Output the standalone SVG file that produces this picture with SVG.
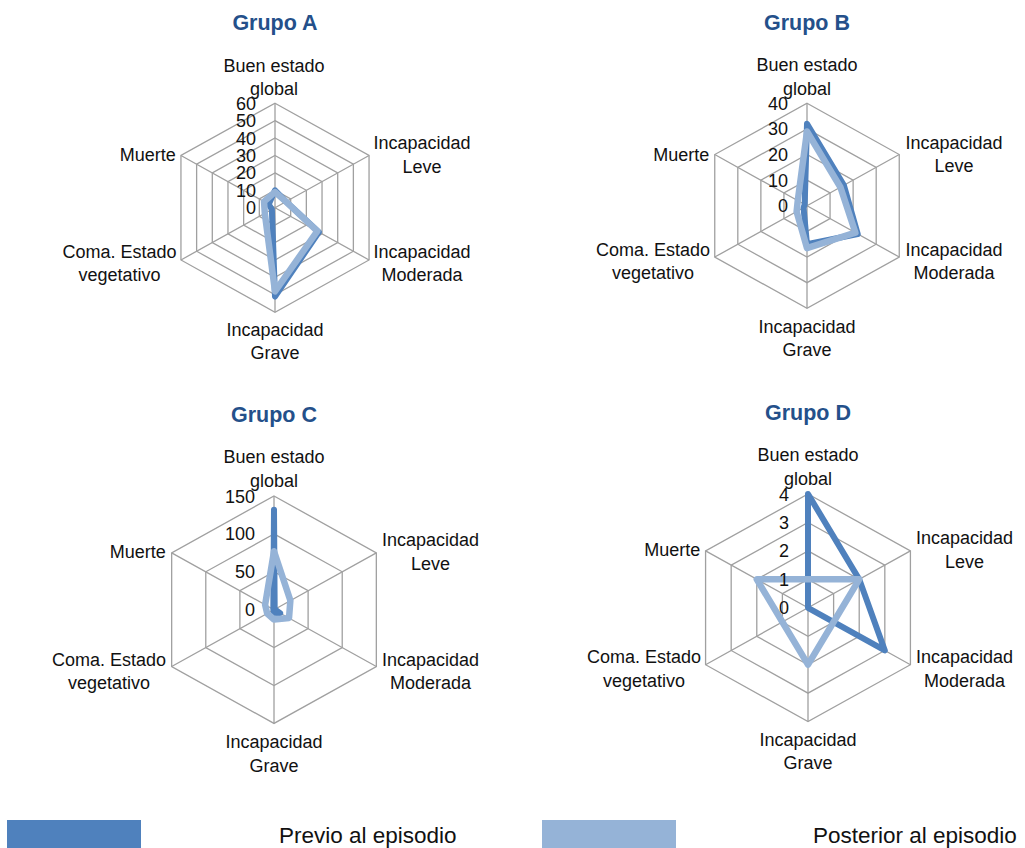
<svg xmlns="http://www.w3.org/2000/svg" width="1025" height="848" viewBox="0 0 1025 848">
<style>
.t{font-family:"Liberation Sans",Arial,sans-serif;font-weight:bold;font-size:21.5px;fill:#24508A;text-anchor:middle}
.l{font-family:"Liberation Sans",Arial,sans-serif;font-size:18px;fill:#111}
.m{text-anchor:middle}
.e{text-anchor:end}
.g{fill:none;stroke:#A0A0A0;stroke-width:1.3}
.s1{fill:none;stroke:#4F81BD;stroke-width:6;stroke-linejoin:round}
.s2{fill:none;stroke:#95B3D7;stroke-width:6.5;stroke-linejoin:round}
.lg{font-family:"Liberation Sans",Arial,sans-serif;font-size:22.5px;fill:#111}
</style>
<rect width="1025" height="848" fill="#fff"/>

<g id="grupo-a">
<text class="t" x="275" y="30">Grupo A</text>
<g transform="translate(275,207.7)">
<polygon class="g" points="0,-17.42 15.68,-8.71 15.68,8.71 0,17.42 -15.68,8.71 -15.68,-8.71"/>
<polygon class="g" points="0,-34.83 31.35,-17.42 31.35,17.42 0,34.83 -31.35,17.42 -31.35,-17.42"/>
<polygon class="g" points="0,-52.25 47.03,-26.13 47.03,26.13 0,52.25 -47.03,26.13 -47.03,-26.13"/>
<polygon class="g" points="0,-69.67 62.7,-34.83 62.7,34.83 0,69.67 -62.7,34.83 -62.7,-34.83"/>
<polygon class="g" points="0,-87.08 78.37,-43.54 78.37,43.54 0,87.08 -78.37,43.54 -78.37,-43.54"/>
<polygon class="g" points="0,-104.5 94.05,-52.25 94.05,52.25 0,104.5 -94.05,52.25 -94.05,-52.25"/>
<path class="g" d="M0,0V-104.5M0,0L94.05,-52.25M0,0L94.05,52.25M0,0V104.5M0,0L-94.05,52.25M0,0L-94.05,-52.25"/>
<polygon class="s1" points="0,-17.42 10.97,-6.1 43.89,24.38 0,88.83 -3.13,1.74 -6.27,-3.48"/>
<polygon class="s2" points="0,-15.68 10.97,-6.1 42.33,23.51 0,83.6 -10.19,5.66 -10.97,-6.1"/>
<g class="l e">
<text x="-19" y="6.5">0</text><text x="-19" y="-10.92">10</text><text x="-19" y="-28.33">20</text><text x="-19" y="-45.75">30</text><text x="-19" y="-63.17">40</text><text x="-19" y="-80.58">50</text><text x="-19" y="-98">60</text>
</g>
</g>
<g class="l m">
<text x="274" y="71.5">Buen estado</text><text x="274" y="94.5">global</text>
<text x="422" y="149">Incapacidad</text><text x="422" y="172.5">Leve</text>
<text x="422" y="257.5">Incapacidad</text><text x="422" y="280.5">Moderada</text>
<text x="275" y="335.5">Incapacidad</text><text x="275" y="358.5">Grave</text>
<text x="119.5" y="257.5">Coma. Estado</text><text x="119.5" y="280.5">vegetativo</text>
</g>
<text class="l e" x="175.7" y="161">Muerte</text>
</g>

<g id="grupo-b">
<text class="t" x="807" y="30">Grupo B</text>
<g transform="translate(807,205.8)">
<polygon class="g" points="0,-25.63 23.06,-12.81 23.06,12.81 0,25.63 -23.06,12.81 -23.06,-12.81"/>
<polygon class="g" points="0,-51.25 46.13,-25.63 46.13,25.63 0,51.25 -46.13,25.63 -46.13,-25.63"/>
<polygon class="g" points="0,-76.88 69.19,-38.44 69.19,38.44 0,76.88 -69.19,38.44 -69.19,-38.44"/>
<polygon class="g" points="0,-102.5 92.25,-51.25 92.25,51.25 0,102.5 -92.25,51.25 -92.25,-51.25"/>
<path class="g" d="M0,0V-102.5M0,0L92.25,-51.25M0,0L92.25,51.25M0,0V102.5M0,0L-92.25,51.25M0,0L-92.25,-51.25"/>
<polygon class="s1" points="0,-82 36.9,-20.5 50.74,28.19 0,38.44 -3.46,1.92 -2.31,-1.28"/>
<polygon class="s2" points="0,-74.31 33.44,-18.58 48.43,26.91 0,42.28 -10.38,5.77 -9.23,-5.13"/>
<g class="l e">
<text x="-19" y="6.5">0</text><text x="-19" y="-19.13">10</text><text x="-19" y="-44.75">20</text><text x="-19" y="-70.38">30</text><text x="-19" y="-96">40</text>
</g>
</g>
<g class="l m">
<text x="807" y="71">Buen estado</text><text x="807" y="95">global</text>
<text x="954" y="149">Incapacidad</text><text x="954" y="171.7">Leve</text>
<text x="954" y="256">Incapacidad</text><text x="954" y="279.3">Moderada</text>
<text x="807" y="333.3">Incapacidad</text><text x="807" y="356">Grave</text>
<text x="653" y="256">Coma. Estado</text><text x="653" y="279.3">vegetativo</text>
</g>
<text class="l e" x="709.3" y="161">Muerte</text>
</g>

<g id="grupo-c">
<text class="t" x="274" y="422.3">Grupo C</text>
<g transform="translate(274,609.7)">
<polygon class="g" points="0,-37.9 34.11,-18.95 34.11,18.95 0,37.9 -34.11,18.95 -34.11,-18.95"/>
<polygon class="g" points="0,-75.8 68.22,-37.9 68.22,37.9 0,75.8 -68.22,37.9 -68.22,-37.9"/>
<polygon class="g" points="0,-113.7 102.33,-56.85 102.33,56.85 0,113.7 -102.33,56.85 -102.33,-56.85"/>
<path class="g" d="M0,0V-113.7M0,0L102.33,-56.85M0,0L102.33,56.85M0,0V113.7M0,0L-102.33,56.85M0,0L-102.33,-56.85"/>
<polygon class="s1" points="0,-100.06 0.68,-0.38 6.14,3.41 0,3.03 -0.68,0.38 -0.68,-0.38"/>
<polygon class="s2" points="0,-58.37 16.37,-9.1 15.01,8.34 0,9.85 -6.82,3.79 -8.87,-4.93"/>
<g class="l e">
<text x="-19" y="6.5">0</text><text x="-19" y="-31.4">50</text><text x="-19" y="-69.3">100</text><text x="-19" y="-107.2">150</text>
</g>
</g>
<g class="l m">
<text x="274" y="463.3">Buen estado</text><text x="274" y="486.7">global</text>
<text x="430.5" y="546">Incapacidad</text><text x="430.5" y="570">Leve</text>
<text x="430.5" y="665.7">Incapacidad</text><text x="430.5" y="689">Moderada</text>
<text x="274" y="747.7">Incapacidad</text><text x="274" y="771.7">Grave</text>
<text x="109" y="665.7">Coma. Estado</text><text x="109" y="689">vegetativo</text>
</g>
<text class="l e" x="165.7" y="558.3">Muerte</text>
</g>

<g id="grupo-d">
<text class="t" x="808" y="420">Grupo D</text>
<g transform="translate(808,607.8)">
<polygon class="g" points="0,-28.45 25.61,-14.23 25.61,14.23 0,28.45 -25.61,14.23 -25.61,-14.23"/>
<polygon class="g" points="0,-56.9 51.21,-28.45 51.21,28.45 0,56.9 -51.21,28.45 -51.21,-28.45"/>
<polygon class="g" points="0,-85.35 76.82,-42.68 76.82,42.68 0,85.35 -76.82,42.68 -76.82,-42.68"/>
<polygon class="g" points="0,-113.8 102.42,-56.9 102.42,56.9 0,113.8 -102.42,56.9 -102.42,-56.9"/>
<path class="g" d="M0,0V-113.8M0,0L102.42,-56.9M0,0L102.42,56.9M0,0V113.8M0,0L-102.42,56.9M0,0L-102.42,-56.9"/>
<polygon class="s1" points="0,-113.8 51.21,-28.45 76.82,42.68 0,0 0,0 0,0"/>
<polygon class="s2" points="0,-28.45 51.21,-28.45 25.61,14.23 0,56.9 -25.61,14.23 -51.21,-28.45"/>
<g class="l e">
<text x="-19" y="6.5">0</text><text x="-19" y="-21.95">1</text><text x="-19" y="-50.4">2</text><text x="-19" y="-78.85">3</text><text x="-19" y="-107.3">4</text>
</g>
</g>
<g class="l m">
<text x="808" y="461">Buen estado</text><text x="808" y="485">global</text>
<text x="964.5" y="544.3">Incapacidad</text><text x="964.5" y="567.7">Leve</text>
<text x="964.5" y="663.3">Incapacidad</text><text x="964.5" y="686.7">Moderada</text>
<text x="808" y="746">Incapacidad</text><text x="808" y="769.3">Grave</text>
<text x="644" y="663.3">Coma. Estado</text><text x="644" y="686.7">vegetativo</text>
</g>
<text class="l e" x="700.3" y="556">Muerte</text>
</g>

<g id="leyenda">
<rect x="7" y="820" width="134" height="30" fill="#4F81BD"/>
<text class="lg" x="279" y="843">Previo al episodio</text>
<rect x="542" y="820" width="134" height="30" fill="#95B3D7"/>
<text class="lg" x="813" y="843">Posterior al episodio</text>
</g>
</svg>
